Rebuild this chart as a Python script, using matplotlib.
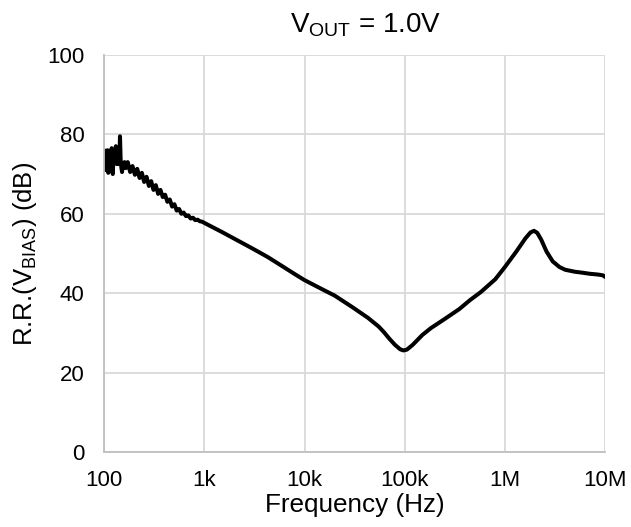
import matplotlib
matplotlib.use('Agg')
import matplotlib.pyplot as plt
import numpy as np

plt.rcParams['font.family'] = ['Liberation Sans', 'DejaVu Sans']
plt.rcParams['mathtext.fontset'] = 'custom'
plt.rcParams['mathtext.rm'] = 'Liberation Sans'

# frequency (Hz) and rejection ratio (dB)
freq = [100, 102, 104, 106, 108, 110, 113, 116, 119, 122, 125, 128, 131, 134, 137,
        140, 142, 144, 146, 148, 151, 153, 156, 160, 165, 172, 182, 192, 203, 214,
        226, 238, 251, 265, 280, 295, 311, 328, 346, 365, 385, 406, 428, 452, 477,
        503, 530, 560, 590, 622, 656, 692, 730, 770, 812, 857, 904, 953,
        1000, 1500, 2000, 3000, 4300, 6000, 8000, 10000,
        15000, 20000, 30000, 43000, 55000, 62000, 70000, 80000, 90000, 97000,
        105000, 120000, 150000, 182000, 250000, 350000, 450000, 575000, 800000,
        1.0e6, 1.3e6, 1.6e6, 1.8e6, 1.95e6, 2.1e6, 2.3e6, 2.6e6, 3.0e6, 3.5e6,
        4.0e6, 5.0e6, 5.8e6, 7.0e6, 8.5e6, 9.5e6, 1.0e7]
rr_db = [76, 71, 75, 72.5, 76, 70.3, 75.5, 73, 76.5, 70, 76, 73.5, 77, 72.5, 75,
         76.5, 72.5, 79.5, 74, 72, 70.5, 72.5, 71.5, 73, 71.5, 73, 70.5, 72, 69.8, 71.3,
         69, 70.3, 68, 69.3, 67, 68.2, 66, 67.2, 65, 66, 64.2, 64.8, 63, 63.6, 61.8,
         62.4, 60.8, 61.2, 60, 60.3, 59.4, 59.6, 58.8, 59, 58.4, 58.5, 58.1, 58,
         57.7, 55.4, 53.7, 51.3, 49.1, 46.8, 44.8, 43.3,
         41, 39.4, 36.5, 33.8, 31.6, 30.2, 28.6, 27, 25.9, 25.6,
         25.8, 27, 29.5, 31.2, 33.5, 36, 38.3, 40.3, 43.5,
         46.6, 50.5, 53.8, 55.3, 55.7, 55.2, 53.5, 50.5, 48, 46.6,
         45.9, 45.4, 45.2, 44.9, 44.7, 44.5, 44.1]

xticks = [1e2, 1e3, 1e4, 1e5, 1e6, 1e7]
xtick_labels = ['100', '1k', '10k', '100k', '1M', '10M']
yticks = [0, 20, 40, 60, 80, 100]

fig = plt.figure(figsize=(6.31, 5.27), dpi=100)
ax = fig.add_axes([0.165, 0.142, 0.794, 0.754])

ax.plot(freq, rr_db, color='black', lw=2.9, solid_joinstyle='round', solid_capstyle='round')

ax.set_xscale('log')
ax.set_xlim(1e2, 1e7)
ax.set_ylim(0, 100)
ax.set_xticks(xticks)
ax.set_xticklabels(xtick_labels)
ax.set_yticks(yticks)
ax.minorticks_off()
ax.tick_params(length=0, labelsize=16)
ax.tick_params(axis='x', pad=13)
ax.tick_params(axis='y', pad=14)

ax.grid(True, color='#d9d9d9', lw=1.3)
ax.set_axisbelow(True)
for s in ['top', 'right']:
    ax.spines[s].set_visible(False)
for s in ['left', 'bottom']:
    ax.spines[s].set_color('#bfbfbf')
    ax.spines[s].set_linewidth(1.3)

fig.text(366 / 631, 1 - 25 / 527, r'V$_{\mathregular{OUT}}$ = 1.0V', fontsize=20,
         ha='center', va='center')
ax.set_xlabel('Frequency (Hz)', fontsize=18.8, labelpad=1)
ax.set_ylabel(r'R.R.(V$_{\mathregular{BIAS}}$) (dB)', fontsize=18.5, labelpad=6)

fig.savefig('out.png', dpi=100)
